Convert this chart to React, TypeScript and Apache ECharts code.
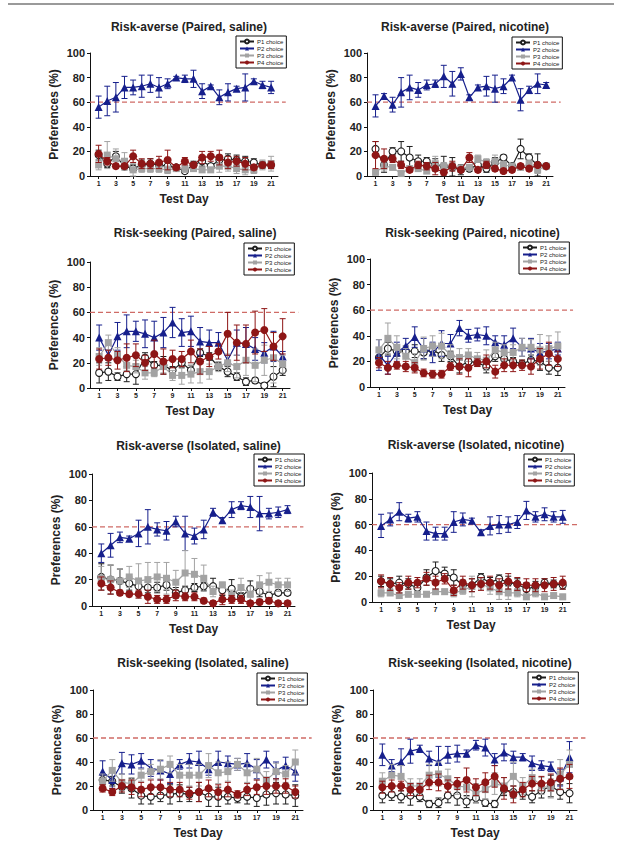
import React, { useEffect, useRef } from "react";
import * as echarts from "echarts";

const DAYS = [1, 2, 3, 4, 5, 6, 7, 8, 9, 10, 11, 12, 13, 14, 15, 16, 17, 18, 19, 20, 21];
const X_TICKS = [1, 3, 5, 7, 9, 11, 13, 15, 17, 19, 21];
const SERIES_NAMES = ["P1 choice", "P2 choice", "P3 choice", "P4 choice"];
const CRITERION = 60;
const TITLES = [
  "Risk-averse (Paired, saline)",
  "Risk-averse (Paired, nicotine)",
  "Risk-seeking (Paired, saline)",
  "Risk-seeking (Paired, nicotine)",
  "Risk-averse (Isolated, saline)",
  "Risk-averse (Isolated, nicotine)",
  "Risk-seeking (Isolated, saline)",
  "Risk-seeking (Isolated, nicotine)",
];

// Risk-averse (Paired, saline)
const RA_PS_P1 = [17, 10, 16, 8, 6, 9, 10, 9, 8, 7, 4, 9, 12, 8, 13, 14, 13, 12, 11, 9, 9];
const RA_PS_P1_ERR = [4, 3, 4, 3, 3, 4, 4, 3, 3, 2, 2, 3, 4, 2, 4, 4, 4, 4, 3, 3, 3];
const RA_PS_P2 = [56, 61, 64, 72, 72, 73, 75, 72, 75, 80, 79, 79, 69, 73, 64, 68, 71, 72, 77, 74, 72];
const RA_PS_P2_ERR = [9, 12, 12, 9, 6, 9, 7, 8, 4, 1, 3, 7, 6, 1, 6, 7, 2, 11, 2, 3, 5];
const RA_PS_P3 = [9, 17, 14, 12, 5, 6, 6, 6, 5, 6, 6, 6, 5, 5, 8, 8, 6, 5, 5, 9, 10];
const RA_PS_P3_ERR = [4, 11, 8, 7, 5, 3, 3, 3, 3, 2, 3, 2, 2, 2, 5, 4, 4, 4, 3, 4, 6];
const RA_PS_P4 = [18, 12, 8, 8, 16, 10, 10, 11, 13, 7, 12, 9, 15, 16, 15, 11, 12, 10, 7, 9, 9];
const RA_PS_P4_ERR = [7, 3, 2, 2, 5, 4, 4, 5, 8, 2, 3, 2, 5, 4, 6, 5, 4, 5, 2, 2, 3];

// Risk-averse (Paired, nicotine)
const RA_PN_P1 = [22, 9, 20, 20, 15, 12, 12, 9, 8, 7, 5, 6, 9, 6, 11, 15, 8, 22, 15, 9, 8];
const RA_PN_P1_ERR = [6, 6, 3, 8, 9, 5, 3, 5, 8, 8, 4, 2, 4, 3, 4, 2, 2, 8, 3, 9, 2];
const RA_PN_P2 = [57, 65, 58, 68, 72, 70, 74, 75, 81, 75, 83, 64, 72, 73, 71, 73, 80, 62, 70, 75, 74];
const RA_PN_P2_ERR = [9, 2, 6, 12, 10, 6, 4, 3, 9, 10, 5, 2, 2, 8, 11, 6, 2, 9, 3, 8, 2];
const RA_PN_P3 = [3, 8, 7, 2, 6, 6, 4, 10, 8, 8, 6, 7, 14, 11, 12, 9, 8, 7, 10, 5, 8];
const RA_PN_P3_ERR = [2, 4, 2, 2, 2, 2, 2, 6, 3, 3, 2, 2, 3, 3, 5, 3, 2, 2, 3, 3, 2];
const RA_PN_P4 = [17, 14, 14, 9, 5, 9, 8, 6, 3, 8, 5, 15, 5, 9, 6, 4, 5, 8, 6, 9, 8];
const RA_PN_P4_ERR = [11, 8, 3, 3, 2, 3, 3, 5, 2, 4, 2, 4, 2, 3, 2, 2, 2, 2, 2, 2, 2];

// Risk-seeking (Paired, saline)
const RS_PS_P1 = [12, 13, 9, 11, 11, 24, 18, 18, 14, 20, 14, 28, 25, 17, 13, 9, 5, 6, 2, 9, 14];
const RS_PS_P1_ERR = [8, 7, 3, 6, 8, 4, 3, 7, 3, 4, 4, 3, 3, 3, 4, 3, 3, 2, 2, 8, 4];
const RS_PS_P2 = [40, 26, 41, 45, 45, 43, 40, 44, 52, 44, 45, 37, 36, 36, 22, 36, 35, 31, 28, 33, 25];
const RS_PS_P2_ERR = [10, 4, 11, 13, 8, 11, 13, 12, 12, 11, 12, 11, 10, 8, 4, 10, 13, 9, 8, 12, 4];
const RS_PS_P3 = [25, 36, 26, 18, 17, 12, 12, 17, 10, 10, 11, 13, 13, 17, 20, 17, 22, 18, 22, 24, 19];
const RS_PS_P3_ERR = [7, 6, 6, 4, 5, 5, 3, 5, 4, 7, 7, 9, 6, 4, 7, 9, 12, 13, 12, 20, 7];
const RS_PS_P4 = [23, 24, 22, 24, 26, 20, 27, 21, 23, 23, 29, 21, 25, 29, 43, 36, 35, 44, 46, 33, 41];
const RS_PS_P4_ERR = [8, 6, 7, 11, 9, 6, 11, 10, 7, 6, 9, 10, 8, 6, 17, 14, 15, 17, 17, 11, 14];

// Risk-seeking (Paired, nicotine)
const RS_PN_P1 = [23, 30, 28, 28, 28, 27, 29, 25, 24, 16, 20, 19, 16, 24, 22, 20, 18, 21, 20, 15, 15];
const RS_PN_P1_ERR = [5, 5, 4, 4, 5, 5, 4, 5, 4, 5, 4, 3, 5, 4, 4, 3, 3, 4, 7, 5, 6];
const RS_PN_P2 = [25, 17, 27, 32, 39, 30, 27, 34, 34, 46, 40, 41, 40, 35, 33, 38, 31, 30, 27, 28, 30];
const RS_PN_P2_ERR = [12, 7, 8, 6, 8, 8, 8, 10, 7, 6, 5, 5, 7, 5, 7, 8, 7, 8, 7, 6, 5];
const RS_PN_P3 = [29, 38, 31, 24, 19, 30, 32, 32, 25, 23, 25, 22, 21, 29, 27, 27, 31, 31, 29, 30, 32];
const RS_PN_P3_ERR = [8, 12, 9, 6, 7, 9, 8, 10, 8, 7, 5, 5, 8, 6, 6, 6, 7, 6, 12, 10, 11];
const RS_PN_P4 = [19, 15, 17, 16, 15, 11, 10, 10, 16, 16, 15, 19, 20, 12, 17, 17, 17, 16, 22, 26, 22];
const RS_PN_P4_ERR = [4, 5, 3, 4, 4, 3, 3, 3, 3, 6, 7, 3, 5, 5, 5, 5, 4, 6, 8, 9, 6];

// Risk-averse (Isolated, saline)
const RA_IS_P1 = [22, 20, 19, 17, 15, 14, 14, 16, 10, 12, 14, 15, 15, 12, 13, 7, 13, 11, 8, 10, 10];
const RA_IS_P1_ERR = [10, 11, 9, 5, 4, 4, 4, 4, 4, 3, 3, 3, 6, 4, 7, 3, 6, 4, 3, 2, 2];
const RA_IS_P2 = [40, 46, 52, 51, 55, 60, 58, 57, 64, 55, 53, 58, 71, 65, 73, 76, 75, 70, 70, 71, 73];
const RA_IS_P2_ERR = [7, 9, 4, 2, 10, 13, 5, 7, 4, 13, 6, 7, 3, 2, 6, 3, 8, 13, 4, 4, 3];
const RA_IS_P3 = [21, 20, 19, 22, 19, 20, 22, 21, 18, 25, 24, 21, 11, 16, 8, 14, 9, 16, 18, 16, 16];
const RA_IS_P3_ERR = [9, 11, 9, 8, 13, 13, 11, 12, 9, 17, 12, 10, 4, 2, 4, 7, 6, 7, 7, 5, 5];
const RA_IS_P4 = [17, 14, 10, 9, 9, 7, 5, 5, 8, 7, 7, 4, 2, 5, 5, 5, 2, 3, 4, 2, 2];
const RA_IS_P4_ERR = [5, 5, 2, 2, 3, 5, 3, 3, 4, 3, 3, 2, 2, 4, 3, 3, 2, 2, 2, 2, 2];

// Risk-averse (Isolated, nicotine)
const RA_IN_P1 = [16, 14, 15, 14, 11, 19, 24, 22, 19, 13, 13, 19, 15, 18, 15, 14, 10, 12, 15, 14, 13];
const RA_IN_P1_ERR = [4, 4, 5, 4, 3, 6, 7, 5, 6, 4, 5, 3, 4, 3, 5, 4, 5, 4, 3, 3, 3];
const RA_IN_P2 = [59, 64, 70, 65, 66, 55, 53, 53, 62, 64, 63, 54, 59, 60, 60, 62, 71, 66, 68, 66, 66];
const RA_IN_P2_ERR = [9, 5, 7, 3, 4, 7, 5, 5, 8, 5, 2, 2, 7, 7, 6, 5, 7, 4, 5, 4, 5];
const RA_IN_P3 = [7, 7, 5, 6, 6, 6, 8, 8, 7, 9, 12, 14, 11, 8, 7, 7, 4, 7, 4, 5, 4];
const RA_IN_P3_ERR = [3, 2, 2, 2, 2, 2, 2, 2, 3, 3, 8, 4, 5, 6, 5, 3, 2, 3, 2, 2, 2];
const RA_IN_P4 = [16, 14, 11, 15, 15, 18, 15, 18, 9, 15, 13, 14, 15, 13, 16, 14, 13, 13, 13, 14, 15];
const RA_IN_P4_ERR = [5, 5, 4, 5, 4, 5, 5, 4, 4, 5, 5, 5, 5, 5, 6, 5, 5, 5, 5, 5, 5];

// Risk-seeking (Isolated, saline)
const RS_IS_P1 = [25, 24, 19, 18, 12, 11, 12, 13, 14, 13, 15, 11, 11, 11, 10, 11, 10, 13, 14, 13, 12];
const RS_IS_P1_ERR = [4, 4, 5, 8, 7, 6, 5, 8, 7, 6, 8, 8, 8, 6, 4, 6, 7, 9, 9, 8, 9];
const RS_IS_P2 = [32, 25, 39, 38, 41, 35, 33, 30, 38, 41, 40, 34, 40, 39, 38, 39, 34, 42, 33, 37, 32];
const RS_IS_P2_ERR = [9, 7, 9, 8, 6, 7, 8, 8, 4, 6, 9, 5, 9, 6, 5, 8, 8, 7, 7, 7, 8];
const RS_IS_P3 = [24, 33, 23, 22, 29, 32, 34, 38, 29, 29, 29, 37, 31, 32, 38, 31, 34, 25, 32, 30, 40];
const RS_IS_P3_ERR = [6, 9, 7, 5, 5, 6, 8, 7, 9, 9, 9, 10, 9, 8, 5, 8, 9, 7, 7, 7, 10];
const RS_IS_P4 = [18, 15, 20, 19, 17, 19, 19, 17, 17, 14, 15, 18, 15, 17, 13, 17, 19, 20, 20, 20, 15];
const RS_IS_P4_ERR = [3, 3, 5, 6, 6, 6, 6, 6, 6, 5, 8, 7, 6, 6, 3, 5, 6, 7, 6, 6, 5];

// Risk-seeking (Isolated, nicotine)
const RS_IN_P1 = [12, 13, 11, 12, 11, 5, 6, 12, 12, 7, 10, 6, 5, 17, 15, 14, 11, 16, 20, 15, 14];
const RS_IN_P1_ERR = [6, 5, 5, 8, 4, 3, 4, 6, 8, 5, 4, 3, 3, 5, 5, 5, 5, 6, 9, 6, 8];
const RS_IN_P2 = [46, 37, 40, 49, 51, 43, 40, 46, 47, 47, 54, 52, 42, 48, 44, 44, 39, 37, 36, 27, 44];
const RS_IN_P2_ERR = [9, 5, 11, 10, 3, 6, 13, 7, 7, 3, 4, 7, 5, 7, 5, 3, 6, 4, 4, 7, 13];
const RS_IN_P3 = [24, 29, 28, 20, 20, 29, 30, 26, 20, 19, 14, 17, 22, 20, 28, 20, 27, 20, 18, 30, 38];
const RS_IN_P3_ERR = [7, 9, 9, 6, 6, 9, 10, 8, 7, 8, 8, 8, 9, 7, 12, 7, 7, 7, 8, 12, 12];
const RS_IN_P4 = [19, 20, 20, 17, 17, 23, 23, 20, 22, 25, 19, 23, 28, 18, 13, 17, 22, 22, 23, 26, 28];
const RS_IN_P4_ERR = [5, 5, 4, 5, 5, 6, 7, 5, 5, 10, 7, 8, 9, 9, 7, 6, 6, 6, 7, 9, 10];

const PANEL_DATA = [
  [[RA_PS_P1, RA_PS_P1_ERR], [RA_PS_P2, RA_PS_P2_ERR], [RA_PS_P3, RA_PS_P3_ERR], [RA_PS_P4, RA_PS_P4_ERR]],
  [[RA_PN_P1, RA_PN_P1_ERR], [RA_PN_P2, RA_PN_P2_ERR], [RA_PN_P3, RA_PN_P3_ERR], [RA_PN_P4, RA_PN_P4_ERR]],
  [[RS_PS_P1, RS_PS_P1_ERR], [RS_PS_P2, RS_PS_P2_ERR], [RS_PS_P3, RS_PS_P3_ERR], [RS_PS_P4, RS_PS_P4_ERR]],
  [[RS_PN_P1, RS_PN_P1_ERR], [RS_PN_P2, RS_PN_P2_ERR], [RS_PN_P3, RS_PN_P3_ERR], [RS_PN_P4, RS_PN_P4_ERR]],
  [[RA_IS_P1, RA_IS_P1_ERR], [RA_IS_P2, RA_IS_P2_ERR], [RA_IS_P3, RA_IS_P3_ERR], [RA_IS_P4, RA_IS_P4_ERR]],
  [[RA_IN_P1, RA_IN_P1_ERR], [RA_IN_P2, RA_IN_P2_ERR], [RA_IN_P3, RA_IN_P3_ERR], [RA_IN_P4, RA_IN_P4_ERR]],
  [[RS_IS_P1, RS_IS_P1_ERR], [RS_IS_P2, RS_IS_P2_ERR], [RS_IS_P3, RS_IS_P3_ERR], [RS_IS_P4, RS_IS_P4_ERR]],
  [[RS_IN_P1, RS_IN_P1_ERR], [RS_IN_P2, RS_IN_P2_ERR], [RS_IN_P3, RS_IN_P3_ERR], [RS_IN_P4, RS_IN_P4_ERR]],
];

// Layout (pixels) for each panel
const LAYOUT = [
  { l: 90, t: 53, w: 188, h: 123, ty: 16, lx: 236, ly: 36 },
  { l: 367, t: 53, w: 186, h: 123, ty: 16, lx: 512, ly: 37 },
  { l: 90, t: 262, w: 200, h: 126, ty: 222, lx: 244, ly: 243 },
  { l: 370, t: 259, w: 195, h: 128, ty: 222, lx: 519, ly: 242 },
  { l: 92, t: 474, w: 203, h: 132, ty: 435, lx: 254, ly: 454 },
  { l: 372, t: 473, w: 198, h: 129, ty: 434, lx: 524, ly: 454 },
  { l: 93, t: 690, w: 210, h: 120, ty: 652, lx: 257, ly: 673 },
  { l: 373, t: 690, w: 204, h: 120, ty: 652, lx: 528, ly: 672 },
];
const X_MAX = 21.8;
const DASH_END = 22.7;

const FONT = "'Liberation Sans', Arial, Helvetica, sans-serif";
const STYLES = [
  { color: "#1e1e1e", symbol: "circle", size: 7, fill: "#ffffff" },
  { color: "#161f8c", symbol: "triangle", size: 8, fill: "#161f8c" },
  { color: "#a3a3a3", symbol: "rect", size: 7, fill: "#a3a3a3" },
  { color: "#8e1616", symbol: "circle", size: 8, fill: "#8e1616" },
];

function renderErr(params: any, api: any) {
  const x = api.value(0);
  const lo = api.value(1);
  const hi = api.value(2);
  const pLo = api.coord([x, lo]);
  const pHi = api.coord([x, hi]);
  const cap = 3;
  const style = { stroke: api.visual("color"), lineWidth: 1 };
  return {
    type: "group",
    children: [
      { type: "line", shape: { x1: pLo[0], y1: pLo[1], x2: pHi[0], y2: pHi[1] }, style },
      { type: "line", shape: { x1: pHi[0] - cap, y1: pHi[1], x2: pHi[0] + cap, y2: pHi[1] }, style },
      { type: "line", shape: { x1: pLo[0] - cap, y1: pLo[1], x2: pLo[0] + cap, y2: pLo[1] }, style },
    ],
  };
}

const TOP_RULE = {
  type: "line",
  shape: { x1: 8, y1: 4, x2: 614, y2: 4 },
  style: { stroke: "#9a9a9a", lineWidth: 2 },
  silent: true,
};

function buildOption() {
  const grid: any[] = [];
  const xAxis: any[] = [];
  const yAxis: any[] = [];
  const title: any[] = [];
  const legend: any[] = [];
  const series: any[] = [];

  PANEL_DATA.forEach((panel, i) => {
    const L = LAYOUT[i];
    grid.push({ left: L.l, top: L.t, width: L.w, height: L.h });
    title.push({
      text: TITLES[i],
      left: L.l + L.w / 2,
      top: L.ty,
      textAlign: "center",
      textStyle: { fontFamily: FONT, fontSize: 12, fontWeight: "bold", color: "#222" },
    });
    xAxis.push({
      type: "value",
      gridIndex: i,
      min: 0,
      max: X_MAX,
      name: "Test Day",
      nameLocation: "middle",
      nameGap: 17,
      nameTextStyle: { fontFamily: FONT, fontSize: 12, fontWeight: "bold", color: "#222" },
      axisLine: { show: true, onZero: false, lineStyle: { color: "#111", width: 1 } },
      axisTick: { show: true, customValues: X_TICKS, length: 3, lineStyle: { color: "#111" } },
      axisLabel: {
        customValues: X_TICKS,
        fontFamily: FONT,
        fontSize: 7,
        fontWeight: "bold",
        color: "#222",
        margin: 4,
      },
      splitLine: { show: false },
    });
    yAxis.push({
      type: "value",
      gridIndex: i,
      min: 0,
      max: 100,
      interval: 20,
      name: "Preferences (%)",
      nameLocation: "middle",
      nameGap: 30,
      nameTextStyle: { fontFamily: FONT, fontSize: 12, fontWeight: "bold", color: "#222" },
      axisLine: { show: true, lineStyle: { color: "#111", width: 1 } },
      axisTick: { show: true, length: 3, lineStyle: { color: "#111" } },
      axisLabel: { fontFamily: FONT, fontSize: 11, fontWeight: "bold", color: "#222", margin: 5 },
      splitLine: { show: false },
    });
    legend.push({
      data: SERIES_NAMES,
      left: L.lx,
      top: L.ly,
      orient: "vertical",
      itemWidth: 14,
      itemHeight: 5,
      itemGap: 0,
      padding: [2, 3, 2, 3],
      borderColor: "#111",
      borderWidth: 1,
      selectedMode: false,
      textStyle: { fontFamily: FONT, fontSize: 6, lineHeight: 7, color: "#222", padding: [0, 0, 0, -2] },
    });

    panel.forEach(([mean, err], k) => {
      const S = STYLES[k];
      series.push({
        type: "custom",
        name: SERIES_NAMES[k] + " SEM",
        xAxisIndex: i,
        yAxisIndex: i,
        renderItem: renderErr,
        itemStyle: { color: S.color },
        encode: { x: 0, y: [1, 2] },
        data: DAYS.map((d, j) => [d, Math.max(0, mean[j] - err[j]), mean[j] + err[j]]),
        z: 2 + k * 2,
        silent: true,
      });
      series.push({
        type: "line",
        name: SERIES_NAMES[k],
        xAxisIndex: i,
        yAxisIndex: i,
        data: DAYS.map((d, j) => [d, mean[j]]),
        symbol: S.symbol,
        symbolSize: S.size,
        showAllSymbol: true,
        lineStyle: { color: S.color, width: 1.2 },
        itemStyle: { color: S.fill, borderColor: S.color, borderWidth: k === 0 ? 1.1 : 0 },
        z: 3 + k * 2,
        silent: true,
        clip: false,
      });
    });
  });

  return {
    animation: false,
    backgroundColor: "#ffffff",
    title,
    grid,
    xAxis,
    yAxis,
    legend,
    series,
    graphic: [TOP_RULE],
  };
}

export default function App() {
  const ref = useRef<HTMLDivElement>(null);
  useEffect(() => {
    if (!ref.current) return;
    const chart = echarts.init(ref.current, undefined, { renderer: "svg" });
    chart.setOption(buildOption() as any);
    // criterion (60%) dashed reference lines, positioned through each panel's own scales
    const dashes = LAYOUT.map((_, i) => {
      const a = chart.convertToPixel({ gridIndex: i } as any, [0, CRITERION]) as number[];
      const b = chart.convertToPixel({ gridIndex: i } as any, [DASH_END, CRITERION]) as number[];
      return {
        type: "line",
        shape: { x1: a[0], y1: a[1], x2: b[0], y2: b[1] },
        style: { stroke: "#cf6b66", lineWidth: 1.3, lineDash: [5, 3] },
        z: 1,
        silent: true,
      };
    });
    chart.setOption({ graphic: [TOP_RULE, ...dashes] } as any);
    return () => chart.dispose();
  }, []);
  return (
    <div
      ref={ref}
      style={{ position: "fixed", left: 0, top: 0, width: 622, height: 846, background: "#fff" }}
    />
  );
}
